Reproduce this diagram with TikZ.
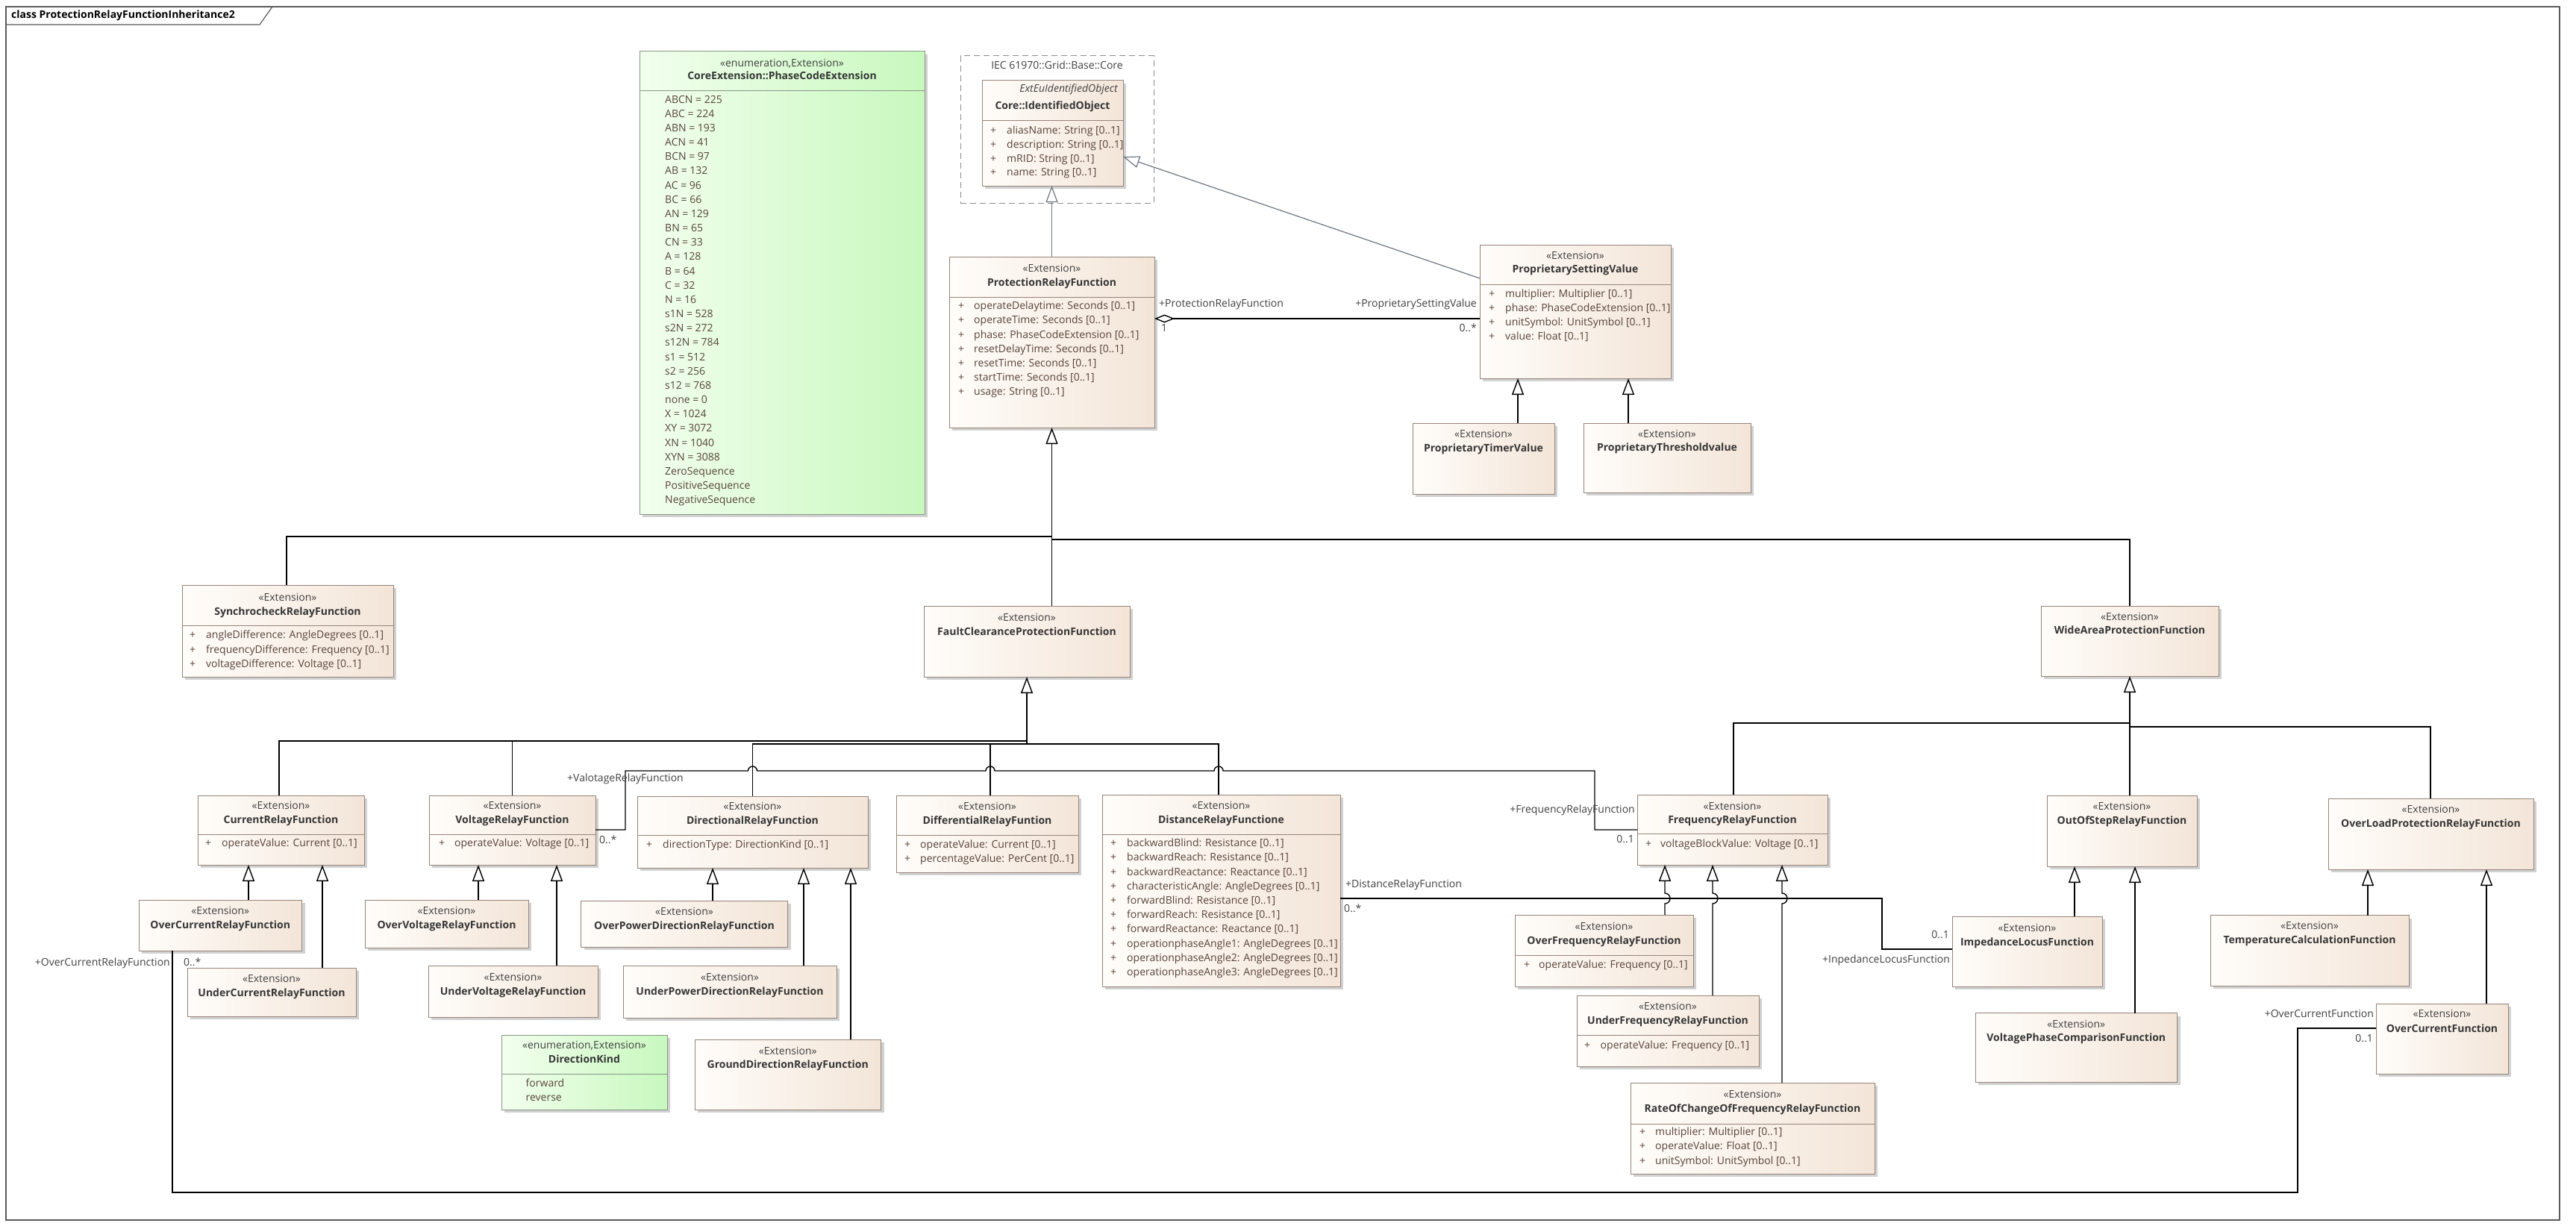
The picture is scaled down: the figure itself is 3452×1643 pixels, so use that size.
\documentclass[tikz,border=0pt]{standalone}
\usepackage{fontspec}
\setmainfont{Open Sans}
\usetikzlibrary{arrows.meta,shadows,calc}
\definecolor{bL}{RGB}{255,253,250}
\definecolor{bR}{RGB}{243,229,216}
\definecolor{bBorder}{RGB}{150,132,122}
\definecolor{gL}{RGB}{242,255,238}
\definecolor{gR}{RGB}{200,248,190}
\definecolor{gBorder}{RGB}{135,150,135}
\definecolor{txt}{RGB}{64,64,64}
\definecolor{atxt}{RGB}{88,68,58}
\definecolor{greyline}{RGB}{110,118,128}
\definecolor{framec}{RGB}{90,90,90}
\tikzset{
  clsbox/.style={draw=bBorder, line width=1pt, left color=bL, right color=bR, inner sep=0pt, outer sep=0pt,
    drop shadow={shadow xshift=4pt, shadow yshift=-4pt, fill=black, opacity=0.18}},
  enumbox/.style={clsbox, draw=gBorder, left color=gL, right color=gR},
  pkgbox/.style={draw=black!45, line width=1pt, dash pattern=on 8pt off 5pt, inner sep=0pt, outer sep=0pt},
  sttxt/.style={inner sep=0pt, anchor=mid, text=txt, font=\fontsize{14}{17}\selectfont},
  nmtxt/.style={inner sep=0pt, anchor=mid, text=txt!85!black, font=\fontsize{14}{17}\selectfont\bfseries},
  attrtxt/.style={inner sep=0pt, anchor=mid west, text=atxt, font=\fontsize{14}{17}\selectfont},
  lbltxt/.style={inner sep=0pt, text=txt, font=\fontsize{14}{17}\selectfont},
  sepline/.style={draw=bBorder, line width=1pt},
  conn/.style={draw=black, line width=1.4pt},
  genl/.style={conn, -{Triangle[length=22pt,width=16pt,fill=white]}},
  gengrey/.style={draw=greyline, line width=1.2pt, -{Triangle[length=22pt,width=16pt,fill=white]}},
  framel/.style={draw=framec, line width=1.2pt}
}
\newcommand\mkcls[6][clsbox]{\node[#1, minimum width={(#5-#3)*1pt}, minimum height={(#6-#4)*1pt}] (#2) at ({(#3+#5)/2},{(#4+#6)/2}) {};}
\newcommand\mkhead[6]{\node[sttxt] at ({(#1+#2)/2},#3) {#5};\node[nmtxt] at ({(#1+#2)/2},#4) {#6};}
\newcommand\sepat[3]{\draw[sepline] (#1,#3) -- (#2,#3);}
\newcommand\mkattrs[5]{\foreach \attrtext [count=\attrnum from 0] in {#5} {\node[attrtxt] at (#2,{#3+\attrnum*#4}) {\attrtext};\node[attrtxt] at (#1,{#3+\attrnum*#4}) {+};}}
\newcommand\mkitems[4]{\foreach \attrtext [count=\attrnum from 0] in {#4} {\node[attrtxt] at (#1,{#2+\attrnum*#3}) {\attrtext};}}
\newcommand\genup[3]{\draw[genl] ([xshift=#2pt]#1.north west) coordinate (gtmp) -- (gtmp |- #3.south);}
\begin{document}
\begin{tikzpicture}[x=1pt,y=-1pt]
\useasboundingbox (0,0) rectangle (3452,1643);
% frame
\draw[framel] (8,9) rectangle (3430,1635);
\draw[framel] (8,33) -- (348,33) -- (365,9);
\node[inner sep=0pt, anchor=mid west, font=\fontsize{14}{17}\selectfont\bfseries] (title) at (15,22) {class ProtectionRelayFunctionInheritance2};

% enumeration PhaseCodeExtension
\mkcls[enumbox]{pce}{857}{69}{1239}{689}
\mkhead{857}{1239}{86.5}{104}{«enumeration,Extension»}{CoreExtension::PhaseCodeExtension}
\draw[sepline, draw=gBorder] (857,122) -- (1239,122);
\mkitems{891}{135.5}{19.16}{{ABCN = 225},{ABC = 224},{ABN = 193},{ACN = 41},{BCN = 97},{AB = 132},{AC = 96},{BC = 66},{AN = 129},{BN = 65},{CN = 33},{A = 128},{B = 64},{C = 32},{N = 16},{s1N = 528},{s2N = 272},{s12N = 784},{s1 = 512},{s2 = 256},{s12 = 768},{none = 0},{X = 1024},{XY = 3072},{XN = 1040},{XYN = 3088},{ZeroSequence},{PositiveSequence},{NegativeSequence}}

% package
\node[pkgbox, minimum width=259pt, minimum height=197pt] (pkg) at (1416.5,173.5) {};
\node[sttxt] (pkglbl) at (1416.5,90) {IEC 61970::Grid::Base::Core};
\mkcls{ido}{1316}{108}{1505}{249}
\node[sttxt, anchor=mid east, font=\fontsize{14}{17}\selectfont\itshape] (idost) at (1498,121) {ExtEuIdentifiedObject};
\node[nmtxt] (idonm) at (1410.5,144) {Core::IdentifiedObject};
\sepat{1316}{1505}{161}
\mkattrs{1327}{1349}{177}{18.7}{{aliasName: String [0..1]},{description: String [0..1]},{mRID: String [0..1]},{name: String [0..1]}}

% ProtectionRelayFunction
\mkcls{prf}{1272}{344}{1547}{573}
\mkhead{1272}{1547}{362}{381}{«Extension»}{ProtectionRelayFunction}
\sepat{1272}{1547}{398}
\mkattrs{1284}{1305}{412}{19.17}{{operateDelaytime: Seconds [0..1]},{operateTime: Seconds [0..1]},{phase: PhaseCodeExtension [0..1]},{resetDelayTime: Seconds [0..1]},{resetTime: Seconds [0..1]},{startTime: Seconds [0..1]},{usage: String [0..1]}}

% ProprietarySettingValue
\mkcls{psv}{1983}{328}{2239}{507}
\mkhead{1983}{2239}{345}{363}{«Extension»}{ProprietarySettingValue}
\sepat{1983}{2239}{381}
\mkattrs{1995}{2017}{396}{19}{{multiplier: Multiplier [0..1]},{phase: PhaseCodeExtension [0..1]},{unitSymbol: UnitSymbol [0..1]},{value: Float [0..1]}}
\mkcls{ptv}{1893}{567}{2083}{662}
\mkhead{1893}{2083}{584}{603}{«Extension»}{ProprietaryTimerValue}
\mkcls{pthv}{2122}{567}{2346}{660}
\mkhead{2122}{2346}{584}{602}{«Extension»}{ProprietaryThresholdvalue}

% second level
\mkcls{sync}{244}{784}{527}{907}
\mkhead{244}{527}{803}{822}{«Extension»}{SynchrocheckRelayFunction}
\sepat{244}{527}{838}
\mkattrs{254}{276}{853}{19.5}{{angleDifference: AngleDegrees [0..1]},{frequencyDifference: Frequency [0..1]},{voltageDifference: Voltage [0..1]}}
\mkcls{fault}{1238}{812}{1514}{907}
\mkhead{1238}{1514}{830}{849}{«Extension»}{FaultClearanceProtectionFunction}
\mkcls{wide}{2735}{812}{2973}{906}
\mkhead{2735}{2973}{829}{847}{«Extension»}{WideAreaProtectionFunction}

% third level
\mkcls{curr}{265}{1066}{488}{1159}
\mkhead{265}{488}{1082}{1101}{«Extension»}{CurrentRelayFunction}
\sepat{265}{488}{1118}
\mkattrs{275}{297}{1132}{19}{{operateValue: Current [0..1]}}
\mkcls{volt}{575}{1066}{798}{1159}
\mkhead{575}{798}{1082}{1101}{«Extension»}{VoltageRelayFunction}
\sepat{575}{798}{1118}
\mkattrs{588}{609}{1132}{19}{{operateValue: Voltage [0..1]}}
\mkcls{dir}{854}{1067}{1163}{1163}
\mkhead{854}{1163}{1083}{1102}{«Extension»}{DirectionalRelayFunction}
\sepat{854}{1163}{1119}
\mkattrs{866}{888}{1134}{19}{{directionType: DirectionKind [0..1]}}
\mkcls{diff}{1201}{1066}{1445}{1169}
\mkhead{1201}{1445}{1083}{1102}{«Extension»}{DifferentialRelayFuntion}
\sepat{1201}{1445}{1119}
\mkattrs{1212}{1233}{1134}{19}{{operateValue: Current [0..1]},{percentageValue: PerCent [0..1]}}
\mkcls{dist}{1477}{1065}{1796}{1322}
\mkhead{1477}{1796}{1082}{1101}{«Extension»}{DistanceRelayFunctione}
\sepat{1477}{1796}{1118}
\mkattrs{1488}{1510}{1132}{19.2}{{backwardBlind: Resistance [0..1]},{backwardReach: Resistance [0..1]},{backwardReactance: Reactance [0..1]},{characteristicAngle: AngleDegrees [0..1]},{forwardBlind: Resistance [0..1]},{forwardReach: Resistance [0..1]},{forwardReactance: Reactance [0..1]},{operationphaseAngle1: AngleDegrees [0..1]},{operationphaseAngle2: AngleDegrees [0..1]},{operationphaseAngle3: AngleDegrees [0..1]}}
\mkcls{freq}{2194}{1065}{2449}{1159}
\mkhead{2194}{2449}{1082.5}{1101}{«Extension»}{FrequencyRelayFunction}
\sepat{2194}{2449}{1117.5}
\mkattrs{2205}{2225}{1132.5}{19}{{voltageBlockValue: Voltage [0..1]}}
\mkcls{oos}{2743}{1066}{2944}{1161}
\mkhead{2743}{2944}{1083}{1102}{«Extension»}{OutOfStepRelayFunction}
\mkcls{olp}{3120}{1070}{3395}{1165}
\mkhead{3120}{3395}{1087}{1106}{«Extension»}{OverLoadProtectionRelayFunction}

% fourth level
\mkcls{ocrf}{186}{1206}{404.5}{1274}
\mkhead{186}{404.5}{1223}{1242}{«Extension»}{OverCurrentRelayFunction}
\mkcls{ucrf}{251}{1297}{477}{1362}
\mkhead{251}{477}{1314}{1333}{«Extension»}{UnderCurrentRelayFunction}
\mkcls{ovrf}{489}{1206}{708}{1270}
\mkhead{489}{708}{1223}{1242}{«Extension»}{OverVoltageRelayFunction}
\mkcls{uvrf}{574}{1294}{801}{1363}
\mkhead{574}{801}{1312}{1331}{«Extension»}{UnderVoltageRelayFunction}
\mkcls{opd}{778.5}{1207}{1055.5}{1269}
\mkhead{778.5}{1055.5}{1224}{1243}{«Extension»}{OverPowerDirectionRelayFunction}
\mkcls{upd}{835}{1294}{1121}{1364}
\mkhead{835}{1121}{1312}{1331}{«Extension»}{UnderPowerDirectionRelayFunction}
\mkcls{gd}{931}{1393}{1180.5}{1487}
\mkhead{931}{1180.5}{1411}{1429}{«Extension»}{GroundDirectionRelayFunction}
\mkcls[enumbox]{dk}{672}{1387}{894}{1487}
\mkhead{672}{894}{1403}{1422}{«enumeration,Extension»}{DirectionKind}
\draw[sepline, draw=gBorder] (672,1439) -- (894,1439);
\mkitems{704.5}{1454}{19}{{forward},{reverse}}
\mkcls{ofr}{2030}{1226}{2269}{1322}
\mkhead{2030}{2269}{1244}{1263}{«Extension»}{OverFrequencyRelayFunction}
\sepat{2030}{2269}{1280}
\mkattrs{2042}{2062}{1295}{19}{{operateValue: Frequency [0..1]}}
\mkcls{ufr}{2113}{1334}{2357}{1429}
\mkhead{2113}{2357}{1351}{1370}{«Extension»}{UnderFrequencyRelayFunction}
\sepat{2113}{2357}{1387}
\mkattrs{2123}{2144.5}{1403}{19}{{operateValue: Frequency [0..1]}}
\mkcls{rocof}{2185}{1451}{2512}{1573}
\mkhead{2185}{2512}{1469}{1488}{«Extension»}{RateOfChangeOfFrequencyRelayFunction}
\sepat{2185}{2512}{1506}
\mkattrs{2197}{2218}{1519}{19.25}{{multiplier: Multiplier [0..1]},{operateValue: Float [0..1]},{unitSymbol: UnitSymbol [0..1]}}
\mkcls{il}{2616}{1228}{2817}{1322}
\mkhead{2616}{2817}{1246}{1265}{«Extension»}{ImpedanceLocusFunction}
\mkcls{vpc}{2647}{1357.5}{2917.5}{1450}
\mkhead{2647}{2917.5}{1374.6}{1393}{«Extension»}{VoltagePhaseComparisonFunction}
\mkcls{temp}{2962}{1226.5}{3228}{1321}
\mkhead{2962}{3228}{1243}{1262}{«Extension»}{TemperatureCalculationFunction}
\mkcls{ocf}{3184}{1345}{3361}{1439}
\mkhead{3184}{3361}{1361}{1381}{«Extension»}{OverCurrentFunction}

% ---------- generalizations ----------
\draw[gengrey] (prf.north) -- (prf.north |- ido.south);
\draw[gengrey] ([yshift=-45pt]psv.north west) -- ([yshift=-102pt]ido.north east);
\genup{ptv}{141}{psv}
\genup{pthv}{60}{psv}

\coordinate (pbL) at ($(prf.south)+(0,146)$);
\coordinate (pbR) at ($(prf.south)+(0,150)$);
\draw[genl] (prf.south |- fault.north) -- (prf.south);
\draw[conn] ([xshift=140pt]sync.north west) |- (pbL);
\draw[conn] (pbR) -| (wide.north);

\coordinate (fbA) at ($(fault.south)+(0,86)$);
\coordinate (fbB) at ($(fault.south)+(0,90)$);
\draw[genl] (fbB) -- (fault.south);
\draw[conn] ([xshift=109pt]curr.north west) |- (fbA);
\draw[conn] (volt.north) |- (fbA);
\draw[conn] (dir.north) |- (fbB);
\draw[conn] ([xshift=126pt]diff.north west) |- (fbB);
\draw[conn] ([xshift=156pt]dist.north west) |- (fbB);

\genup{ocrf}{147}{curr}
\genup{ucrf}{181}{curr}
\genup{ovrf}{152}{volt}
\genup{uvrf}{172}{volt}
\genup{opd}{176.5}{dir}
\genup{upd}{242}{dir}
\genup{gd}{209}{dir}

\coordinate (wbL) at ($(wide.south)+(0,63)$);
\coordinate (wbR) at ($(wide.south)+(0,68)$);
\draw[genl] (wide.south |- oos.north) -- (wide.south);
\draw[conn] ([xshift=129pt]freq.north west) |- (wbL);
\draw[conn] ([xshift=137pt]olp.north west) |- (wbR);

\draw[genl] ([xshift=201pt]ofr.north west) coordinate (gtmp) -- (2231,1211) arc[start angle=90,end angle=-90,radius=7] -- (gtmp |- freq.south);
\draw[genl] ([xshift=182pt]ufr.north west) coordinate (gtmp) -- (2295,1211) arc[start angle=90,end angle=-90,radius=7] -- (gtmp |- freq.south);
\draw[genl] ([xshift=203pt]rocof.north west) coordinate (gtmp) -- (2388,1211) arc[start angle=90,end angle=-90,radius=7] -- (gtmp |- freq.south);

\genup{il}{164}{oos}
\genup{vpc}{214}{oos}
\genup{temp}{211}{olp}
\genup{ocf}{148}{olp}

% ---------- associations ----------
\draw[conn, {Diamond[length=27pt,width=11pt,fill=white]}-] ([yshift=-83pt]prf.north east) -- ([yshift=-99pt]psv.north west);
\node[lbltxt, anchor=mid west] (l1) at (1553,409) {+ProtectionRelayFunction};
\node[lbltxt, anchor=mid west] (l2) at (1556,442) {1};
\node[lbltxt, anchor=mid east] (l3) at (1979,409) {+ProprietarySettingValue};
\node[lbltxt, anchor=mid east] (l4) at (1979,442) {0..*};

\draw[conn] ([yshift=-46pt]volt.north east) -- (838,1112) -- (838,1033) -- (1002.5,1033)
  arc[start angle=180,end angle=360,radius=6] -- (1321,1033)
  arc[start angle=180,end angle=360,radius=6] -- (1627,1033)
  arc[start angle=180,end angle=360,radius=6] -- (2137,1033) -- (2137,1112) -- ([yshift=-47pt]freq.north west);
\node[lbltxt, anchor=mid west] (l5) at (760,1045) {+ValotageRelayFunction};
\node[lbltxt, anchor=mid west] (l6) at (803,1128) {0..*};
\node[lbltxt, anchor=mid east] (l7) at (2191,1087) {+FrequencyRelayFunction};
\node[lbltxt, anchor=mid east] (l8) at (2190,1127) {0..1};

\draw[conn] ([yshift=-139pt]dist.north east) -- (2522,1204) -- (2522,1272) -- ([yshift=-44pt]il.north west);
\node[lbltxt, anchor=mid west] (l9) at (1803,1187) {+DistanceRelayFunction};
\node[lbltxt, anchor=mid west] (l10) at (1801,1220) {0..*};
\node[lbltxt, anchor=mid east] (l11) at (2613,1288) {+InpedanceLocusFunction};
\node[lbltxt, anchor=mid east] (l12) at (2612,1255) {0..1};

\draw[conn] ([xshift=45pt]ocrf.south west) -- (231,1598) -- (3079,1598) -- (3079,1378) -- ([yshift=-33pt]ocf.north west);
\node[lbltxt, anchor=mid east] (l13) at (228,1292) {+OverCurrentRelayFunction};
\node[lbltxt, anchor=mid west] (l14) at (246,1292) {0..*};
\node[lbltxt, anchor=mid east] (l15) at (3181,1361) {+OverCurrentFunction};
\node[lbltxt, anchor=mid east] (l16) at (3180,1394) {0..1};
\end{tikzpicture}
\end{document}
